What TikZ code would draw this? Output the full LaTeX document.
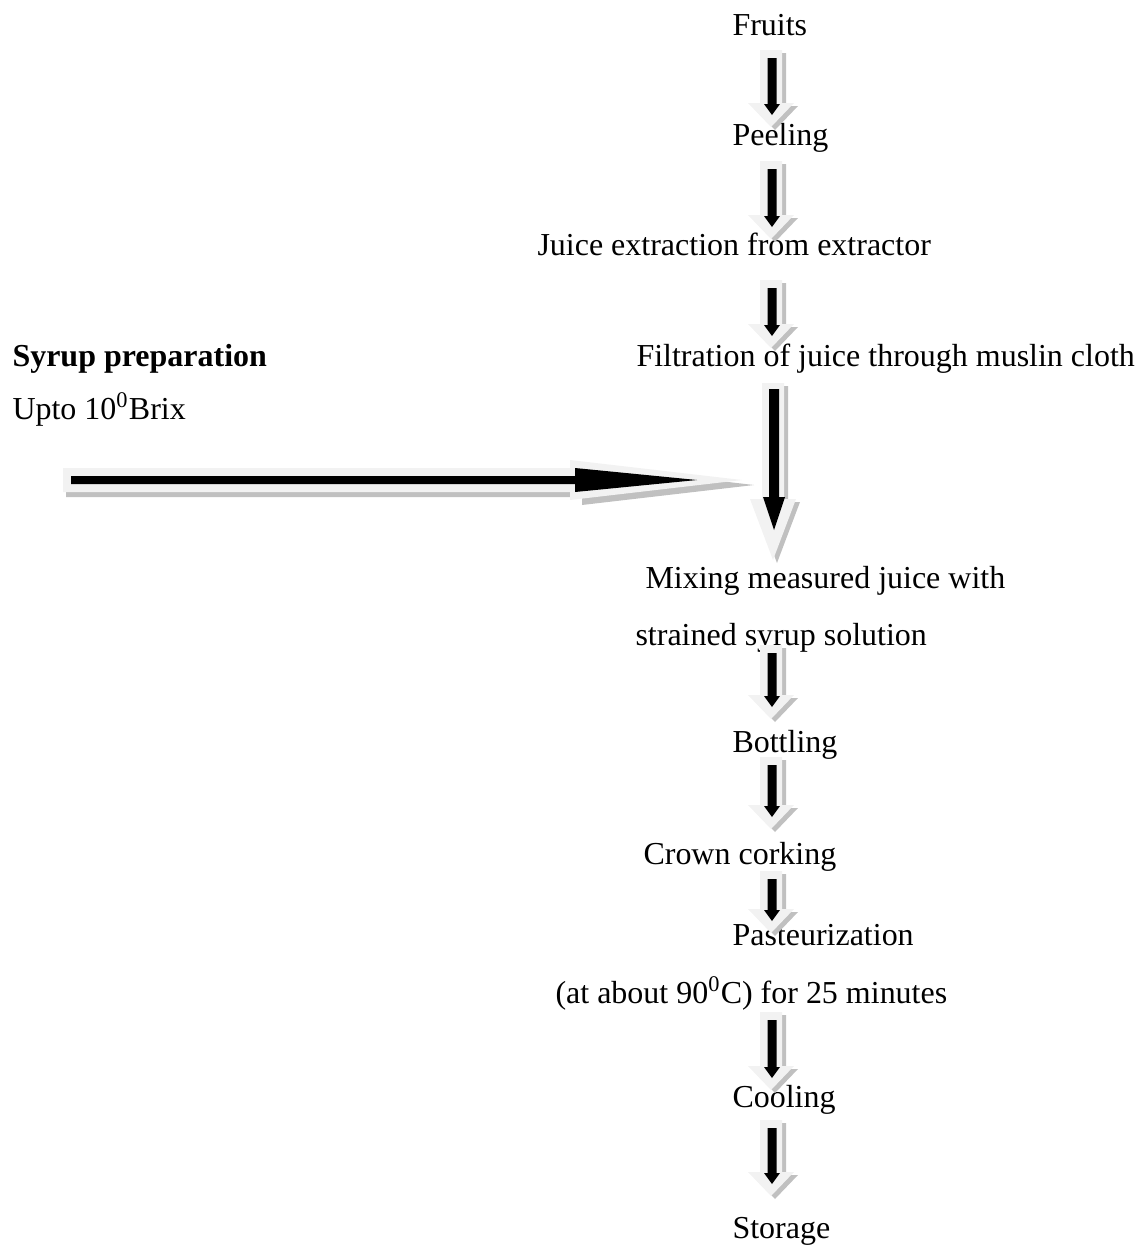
\documentclass[tikz,border=0pt]{standalone}
\usepackage{fontspec}
\setmainfont{Liberation Serif}
\usetikzlibrary{calc}

\definecolor{arrowbody}{HTML}{F2F2F2}
\definecolor{arrowshade}{HTML}{C0C0C0}

% vertical block arrow: style, top, tip, dx, top dy, tip dy, half shaft, half head, head length
\newcommand{\arrowfill}[9]{%
  \fill[#1] ($(#2)+({#4-#7},#5)$) -- ($(#2)+({#4+#7},#5)$) --
    ($(#3)+({#4+#7},{#6-#9})$) -- ($(#3)+({#4+#8},{#6-#9})$) --
    ($(#3)+(#4,#6)$) --
    ($(#3)+({#4-#8},{#6-#9})$) -- ($(#3)+({#4-#7},{#6-#9})$) -- cycle;}
% horizontal block arrow: style, start, tip, start dx, tip dx, dy, half shaft, half head, head length
\newcommand{\harrowfill}[9]{%
  \fill[#1] ($(#2)+(#4,{#6-#7})$) -- ($(#3)+({#5-#9},{#6-#7})$) --
    ($(#3)+({#5-#9},{#6-#8})$) -- ($(#3)+(#5,#6)$) --
    ($(#3)+({#5-#9},{#6+#8})$) -- ($(#3)+({#5-#9},{#6+#7})$) --
    ($(#2)+(#4,{#6+#7})$) -- cycle;}
\newcommand{\flowarrow}[2]{%
  \arrowfill{arrowshade}{#1}{#2}{4}{3}{3}{11}{23}{24}
  \arrowfill{arrowbody}{#1}{#2}{0}{0}{0}{11}{23}{24}
  \arrowfill{black}{#1}{#2}{1}{8}{-12}{4.5}{8}{11}}

\begin{document}
\begin{tikzpicture}[x=0.3846pt,y=-0.3846pt,
    every node/.style={inner sep=0pt,anchor=base west,font=\fontsize{12.3}{14}\selectfont}]
\useasboundingbox (0,0) rectangle (1140,1255);

% process steps
\node (fruits) at (732,35) {Fruits};
\node (peel) at (732,145) {Peeling};
\node (juice) at (537,255) {Juice extraction from extractor};
\node (filter) at (636,366) {Filtration of juice through muslin cloth};
\node (syrup) at (12,366) {\bfseries Syrup preparation};
\node (brix) at (12,419) {Upto 10\textsuperscript{0}Brix};
\node (mix) at (645,588) {Mixing measured juice with};
\node (strain) at (635,645) {strained syrup solution};
\node (bottle) at (732,752) {Bottling};
\node (cork) at (643,864) {Crown corking};
\node (pasteur) at (732,945) {Pasteurization};
\node (temp) at (555,1003) {(at about 90\textsuperscript{0}C) for 25 minutes};
\node (cool) at (732,1107) {Cooling};
\node (store) at (732,1238) {Storage};

% arrow ends
\coordinate (a1) at (771,50);   \coordinate (b1) at (771,127);
\coordinate (a2) at (771,161);  \coordinate (b2) at (771,239);
\coordinate (a3) at (771,280);  \coordinate (b3) at (771,348);
\coordinate (a4) at (773,383);  \coordinate (b4) at (773,560);
\coordinate (a5) at (771,645);  \coordinate (b5) at (771,719);
\coordinate (a6) at (771,757);  \coordinate (b6) at (771,829);
\coordinate (a7) at (771,871);  \coordinate (b7) at (771,933);
\coordinate (a8) at (771,1012); \coordinate (b8) at (771,1090);
\coordinate (a9) at (771,1120); \coordinate (b9) at (771,1196);
\coordinate (h0) at (63,480);   \coordinate (h1) at (742,480);

\flowarrow{a1}{b1}
\flowarrow{a2}{b2}
\flowarrow{a3}{b3}
\flowarrow{a5}{b5}
\flowarrow{a6}{b6}
\flowarrow{a7}{b7}
\flowarrow{a8}{b8}
\flowarrow{a9}{b9}

% syrup joins the juice
\arrowfill{arrowshade}{a4}{b4}{4}{3}{3}{11}{23}{61}
\arrowfill{arrowbody}{a4}{b4}{0}{0}{0}{11}{23}{61}
\arrowfill{black}{a4}{b4}{1}{6}{-30}{5}{11}{33}
\harrowfill{arrowshade}{h0}{h1}{3}{12}{5}{12}{20}{172}
\harrowfill{arrowbody}{h0}{h1}{0}{0}{0}{12}{20}{172}
\harrowfill{black}{h0}{h1}{8}{-45}{0}{4}{12}{122}
\end{tikzpicture}
\end{document}
